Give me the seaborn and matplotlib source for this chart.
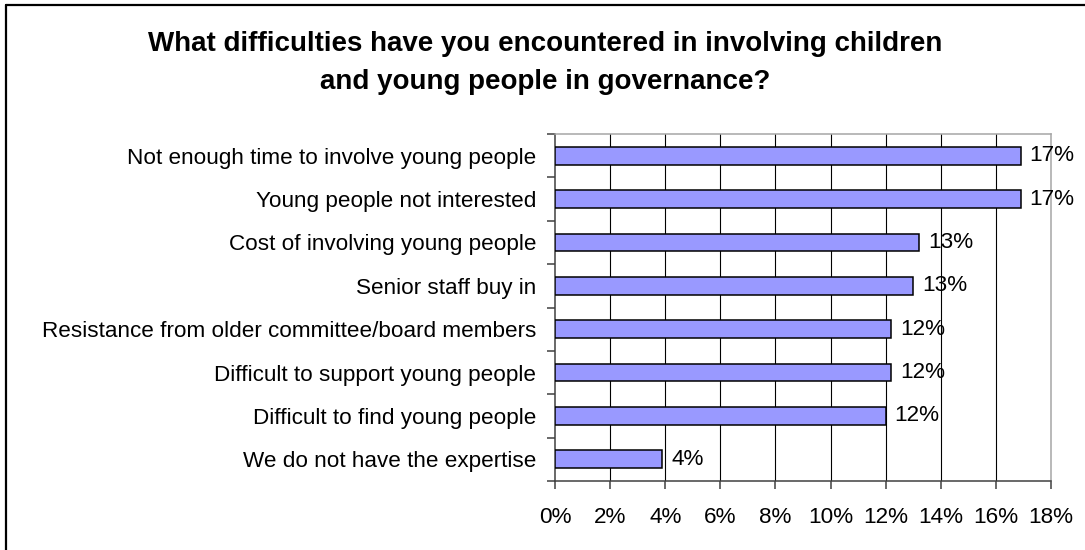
import numpy as np
import pandas as pd
import matplotlib
matplotlib.use("Agg")
import matplotlib.pyplot as plt
from matplotlib.lines import Line2D
from matplotlib.ticker import FuncFormatter, FixedLocator
import seaborn as sns

# Survey responses (share of respondents)
categories = [
    "Not enough time to involve young people",
    "Young people not interested",
    "Cost of involving young people",
    "Senior staff buy in",
    "Resistance from older committee/board members",
    "Difficult to support young people",
    "Difficult to find young people",
    "We do not have the expertise",
]
shares = [0.169, 0.169, 0.132, 0.130, 0.122, 0.122, 0.120, 0.039]
x_ticks = [0.00, 0.02, 0.04, 0.06, 0.08, 0.10, 0.12, 0.14, 0.16, 0.18]

title = ("What difficulties have you encountered in involving children\n"
         "and young people in governance?")

sns.set_theme(style="white")
plt.rcParams["font.family"] = ["Liberation Sans", "DejaVu Sans"]
plt.rcParams["text.color"] = "black"
plt.rcParams["xtick.color"] = "black"
plt.rcParams["ytick.color"] = "black"
plt.rcParams["axes.labelcolor"] = "black"

df = pd.DataFrame({"category": categories, "share": shares})

W, H = 1085, 550
fs = 16.2
fig = plt.figure(figsize=(W / 100, H / 100), dpi=100)
fig.patch.set_facecolor("white")
ax = fig.add_axes([555 / W, 1 - 481 / H, (1051 - 555) / W, (481 - 134) / H])

sns.barplot(data=df, x="share", y="category", orient="h", ax=ax,
            color="#9999FF", saturation=1, width=0.41,
            edgecolor="black", linewidth=1.1, zorder=3)

ax.set_xlim(0, 0.18)
ax.set_ylim(7.5, -0.5)
ax.set_xlabel("")
ax.set_ylabel("")

# vertical gridlines
ax.xaxis.set_major_locator(FixedLocator(x_ticks))
ax.xaxis.set_major_formatter(FuncFormatter(lambda v, p: f"{v * 100:.0f}%"))
for v in x_ticks[1:-1]:
    ax.axvline(v, color="black", lw=0.8, zorder=1)

# spines
for side in ("top", "right"):
    ax.spines[side].set_color("#a6a6a6")
    ax.spines[side].set_linewidth(1.1)
for side in ("left", "bottom"):
    ax.spines[side].set_color("#404040")
    ax.spines[side].set_linewidth(1.1)
    ax.spines[side].set_visible(True)

# ticks: x outward, y at category boundaries
ax.tick_params(axis="x", which="major", direction="out", length=6, width=1.1,
               color="#404040", labelcolor="black", labelsize=fs, pad=12.5,
               bottom=True)
ax.tick_params(axis="y", which="major", length=0, labelsize=fs, pad=13.5,
               labelcolor="black")
ax.set_yticks(np.arange(-0.5, 8, 1.0), minor=True)
ax.tick_params(axis="y", which="minor", direction="out", length=6, width=1.1,
               color="#404040", left=True)

# value labels
for i, v in enumerate(shares):
    ax.annotate(f"{round(v * 100)}%", xy=(v, i), xytext=(6.5, 0),
                textcoords="offset points", va="center", ha="left",
                fontsize=fs, color="black", zorder=4, annotation_clip=False)

fig.text(545 / W, 1 - 63 / H, title, ha="center", va="center",
         fontsize=20, fontweight="bold", linespacing=1.62, color="black")

# chart frame
fig.add_artist(Line2D([6 / W, 6 / W], [0, 1 - 5 / H], transform=fig.transFigure,
                      color="black", lw=1.6))
fig.add_artist(Line2D([6 / W, 1], [1 - 5 / H, 1 - 5 / H], transform=fig.transFigure,
                      color="black", lw=1.6))

fig.savefig("out.png", dpi=100)
